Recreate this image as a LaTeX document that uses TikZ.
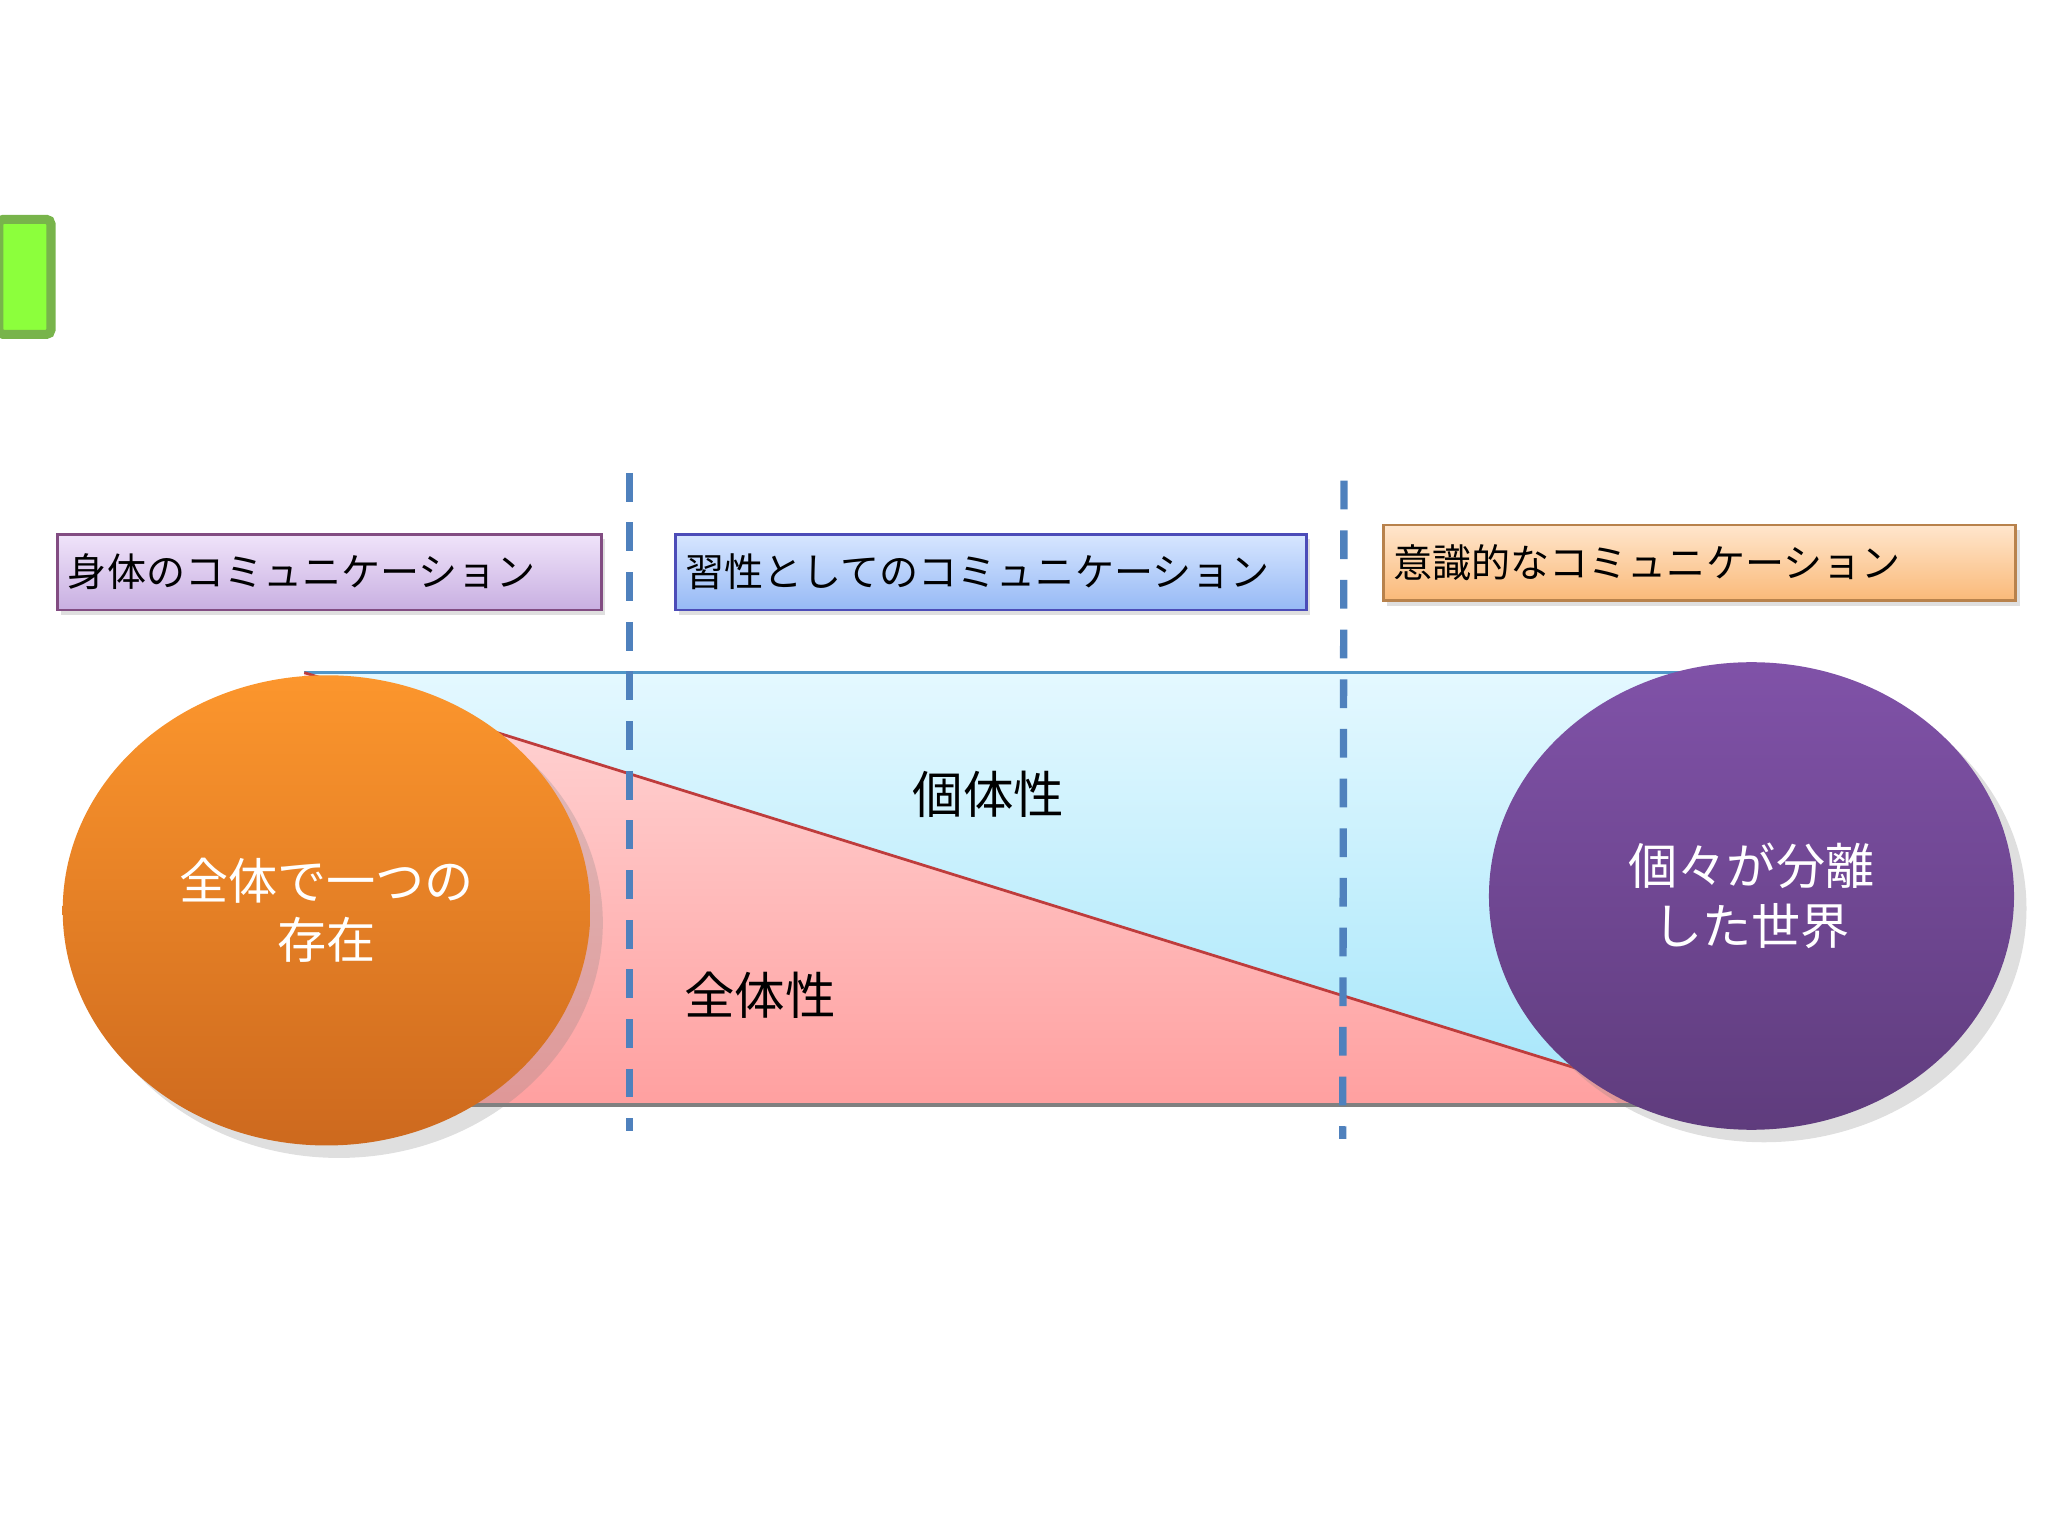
\documentclass[tikz,border=0pt]{standalone}
\usepackage{fontspec}
\setmainfont{Noto Sans CJK JP}
\usetikzlibrary{shadows}
\definecolor{dashblue}{HTML}{4F81BD}
\definecolor{topline}{RGB}{80,150,200}
\definecolor{redline}{RGB}{190,60,60}
\tikzset{
  lbl/.style={draw=#1!60!black!70, line width=0.6pt, minimum height=0.58cm, font=\fontsize{8.5pt}{10pt}\selectfont, anchor=west, inner sep=0pt, drop shadow={opacity=0.25, shadow xshift=0.3mm, shadow yshift=-0.4mm}},
  sep/.style={dashblue, line width=1.6pt, dash pattern=on 2.2mm off 1.6mm},
  big/.style={font=\fontsize{11pt}{13pt}\selectfont},
  circtxt/.style={font=\fontsize{10.7pt}{13pt}\selectfont, text=white, align=center},
}
\begin{document}
\begin{tikzpicture}[x=0.01cm,y=-0.01cm]
\useasboundingbox (0,0) rectangle (1568,1176);
% green square
\node[draw={rgb,255:red,120;green,180;blue,75}, line width=2pt, fill={rgb,255:red,140;green,255;blue,60}, rounded corners=1pt, minimum width=0.4cm, minimum height=0.88cm, inner sep=0pt] (g) at (19,212) {};
% label boxes
\node[lbl=violet, top color={rgb,255:red,240;green,228;blue,250}, bottom color={rgb,255:red,200;green,175;blue,225}, minimum width=4.16cm, text width=4.0cm] (b1) at (43,438) {身体のコミュニケーション};
\node[lbl=blue, top color={rgb,255:red,215;green,230;blue,255}, bottom color={rgb,255:red,150;green,185;blue,245}, minimum width=4.83cm, text width=4.67cm] (b2) at (516,438) {習性としてのコミュニケーション};
\node[lbl=orange, top color={rgb,255:red,255;green,230;blue,205}, bottom color={rgb,255:red,250;green,185;blue,120}, minimum width=4.84cm, text width=4.68cm] (b3) at (1058,431) {意識的なコミュニケーション};
% band
\coordinate (tl) at (233,515); \coordinate (br) at (1294,845);
\shade[top color={rgb,255:red,228;green,248;blue,255}, bottom color={rgb,255:red,165;green,230;blue,250}] (tl) rectangle (br);
\draw[topline, line width=0.6pt] (tl) -- (1294,515);
\shade[top color={rgb,255:red,255;green,215;blue,215}, bottom color={rgb,255:red,255;green,160;blue,160}] (tl) -- (br) -- (233,845) -- cycle;
\draw[redline, line width=0.6pt] (tl) -- (br);
\draw[gray, line width=1pt] (233,846) -- (1294,846);
% dashed separators
\coordinate (s1a) at (482,362); \coordinate (s1b) at (482,866);
\coordinate (s2a) at (1029,368); \coordinate (s2b) at (1028,872);
\draw[sep] (s1a) -- (s1b);
\draw[sep] (s2a) -- (s2b);
% ellipses
\shade[top color={rgb,255:red,252;green,150;blue,45}, bottom color={rgb,255:red,205;green,105;blue,30}, drop shadow={opacity=0.25}] (250,697) ellipse [x radius=202, y radius=180];
\node[circtxt] (e1) at (250,697) {全体で一つの\\存在};
\shade[top color={rgb,255:red,128;green,82;blue,168}, bottom color={rgb,255:red,95;green,60;blue,125}, drop shadow={opacity=0.25}] (1341,686) ellipse [x radius=201, y radius=179];
\node[circtxt] (e2) at (1341,686) {個々が分離\\した世界};
% big labels
\node[big] (k) at (757,608) {個体性};
\node[big] (z) at (582,762) {全体性};
\end{tikzpicture}
\end{document}
